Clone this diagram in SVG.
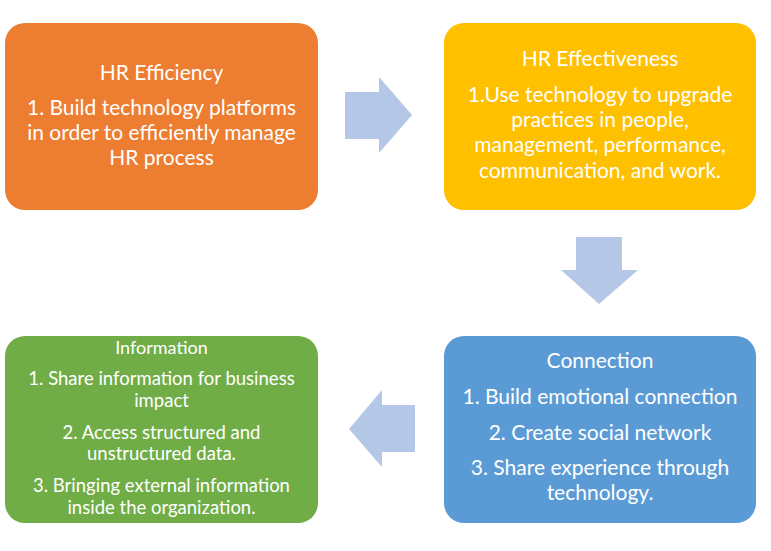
<svg xmlns="http://www.w3.org/2000/svg" width="771" height="551" viewBox="0 0 771 551">
<style>
.box{stroke:none}
.t{font-family:Lato,"Liberation Sans",sans-serif;fill:#fff;text-anchor:middle}
.l{font-size:21px}
.s{font-size:18.5px}
.arrow{fill:#B4C7E7}
</style>
<rect width="771" height="551" fill="#fff"/>
<g id="hr-efficiency">
<rect class="box" x="5" y="23" width="313" height="187" rx="20" fill="#ED7D31"/>
<text class="t l" x="161.5" y="80">HR Efficiency</text>
<text class="t l" x="161.5" y="115">1. Build technology platforms</text>
<text class="t l" x="161.5" y="140">in order to efficiently manage</text>
<text class="t l" x="161.5" y="165">HR process</text>
</g>
<g id="hr-effectiveness">
<rect class="box" x="444" y="23" width="312" height="187" rx="20" fill="#FFC000"/>
<text class="t l" x="600" y="66">HR Effectiveness</text>
<text class="t l" x="600" y="102">1.Use technology to upgrade</text>
<text class="t l" x="600" y="127">practices in people,</text>
<text class="t l" x="600" y="152">management, performance,</text>
<text class="t l" x="600" y="178">communication, and work.</text>
</g>
<g id="connection">
<rect class="box" x="444" y="336" width="312" height="187" rx="20" fill="#5B9BD5"/>
<text class="t l" x="600" y="368">Connection</text>
<text class="t l" x="600" y="404">1. Build emotional connection</text>
<text class="t l" x="600" y="440">2. Create social network</text>
<text class="t l" x="600" y="475">3. Share experience through</text>
<text class="t l" x="600" y="500">technology.</text>
</g>
<g id="information">
<rect class="box" x="5" y="336" width="313" height="187" rx="20" fill="#70AD47"/>
<text class="t" font-size="18" x="161.5" y="354">Information</text>
<text class="t s" x="161.5" y="385">1. Share information for business</text>
<text class="t s" x="161.5" y="407">impact</text>
<text class="t s" x="161.5" y="439">2. Access structured and</text>
<text class="t s" x="161.5" y="460">unstructured data.</text>
<text class="t s" x="161.5" y="492">3. Bringing external information</text>
<text class="t s" x="161.5" y="514">inside the organization.</text>
</g>
<g id="connectors">
<polygon class="arrow" points="345,92 379,92 379,77 412,115 379,153 379,139 345,139"/>
<polygon class="arrow" points="576,237 622,237 622,270 638,270 599,304 561,270 576,270"/>
<polygon class="arrow" points="415,405 382,405 382,390 349,429 382,467 382,452 415,452"/>
</g>
</svg>
